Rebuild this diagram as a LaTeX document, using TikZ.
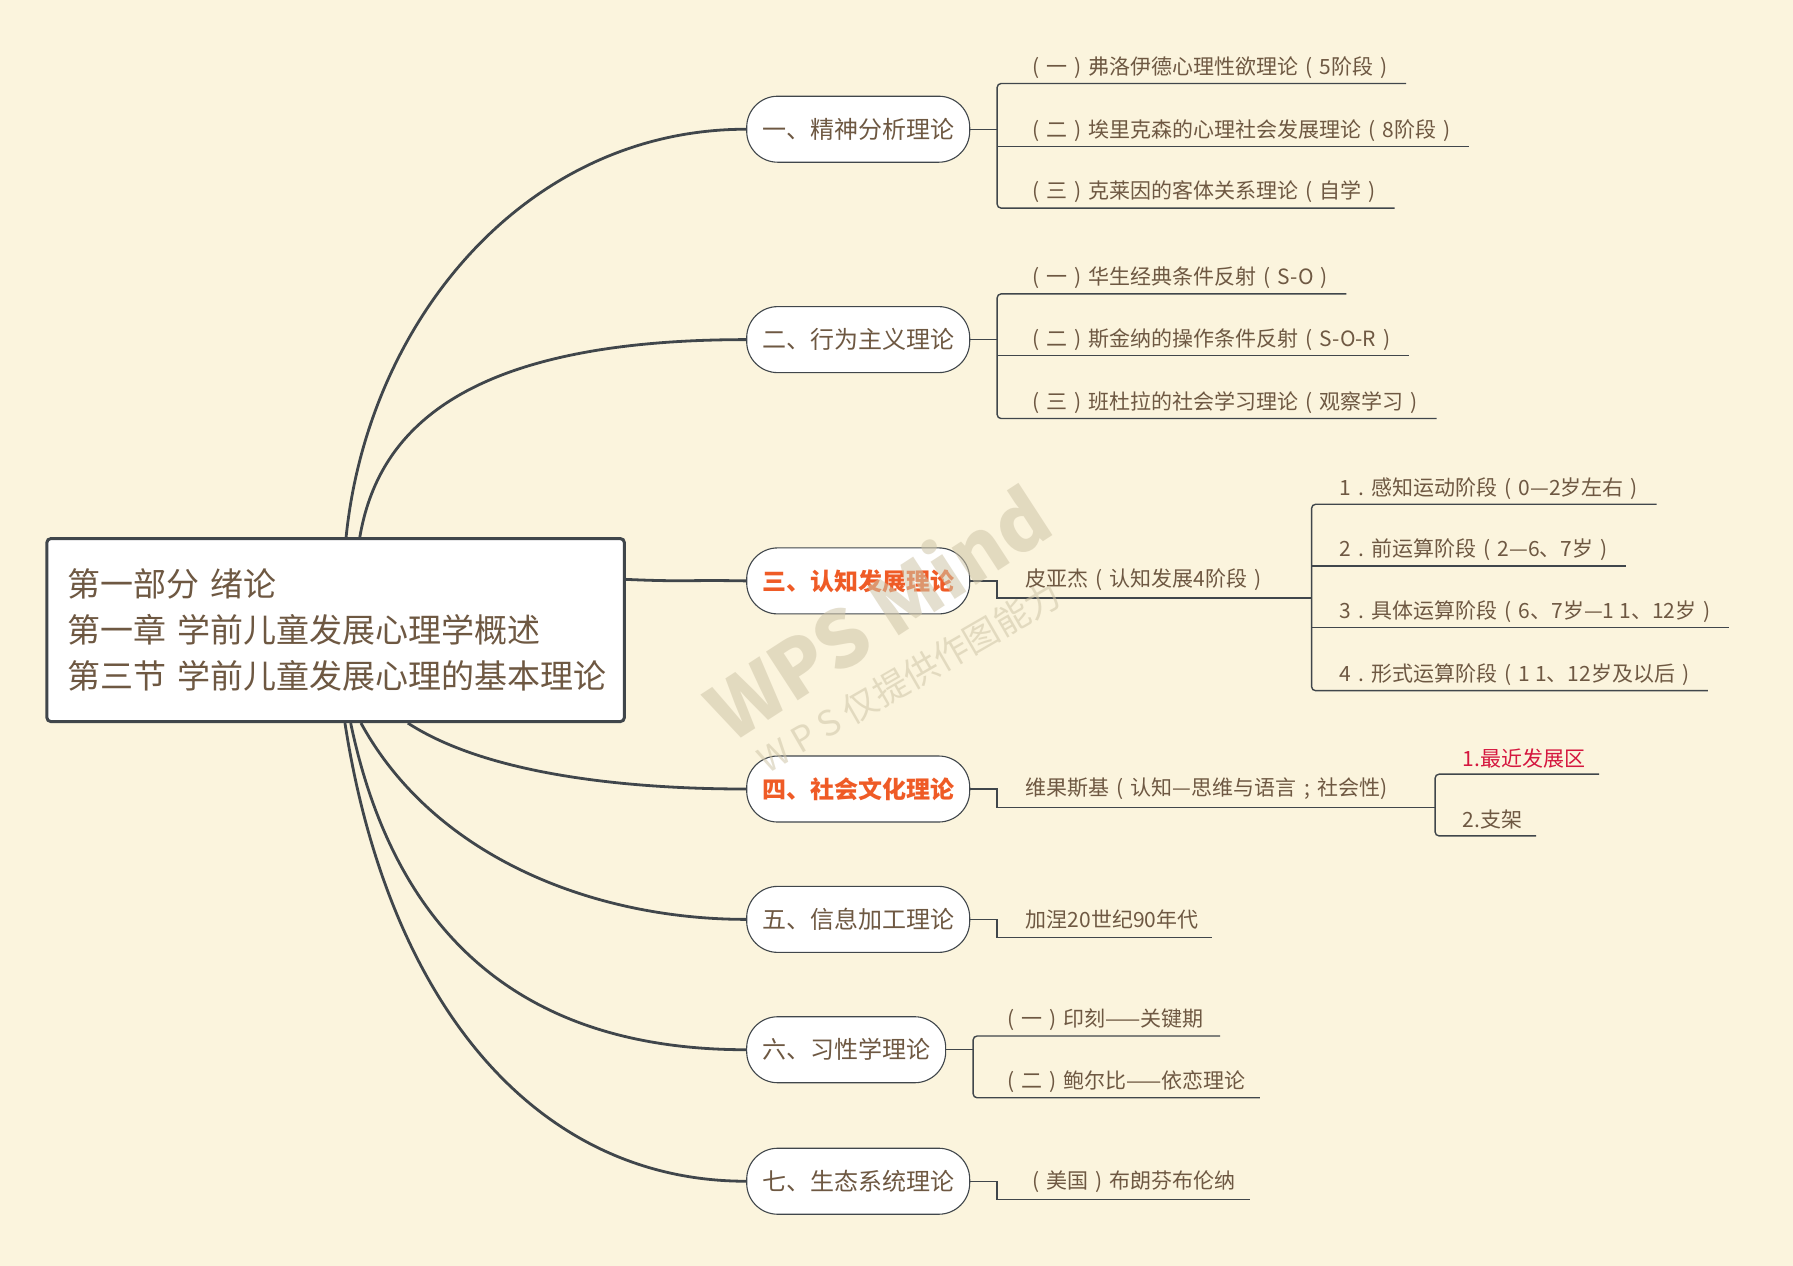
\documentclass[tikz,border=0pt]{standalone}
\usepackage{fontspec}
\newfontfamily\cjk{Noto Sans CJK SC}
\usetikzlibrary{calc}
\definecolor{bg}{HTML}{FBF4DD}
\definecolor{txt}{HTML}{6E5842}
\definecolor{ln}{HTML}{40464B}
\definecolor{hot}{HTML}{EF5B26}
\definecolor{crim}{HTML}{D5173F}
\definecolor{wm}{HTML}{CFC5A8}
\newcommand\zkl{\makebox[1em][c]{(}}
\newcommand\zkr{\makebox[1em][c]{)}}
\newcommand\zkd{\makebox[1em][c]{.}}
\newcommand\zks{\makebox[1em][c]{;}}
\pgfdeclarelayer{bottom}
\pgfdeclarelayer{back}
\pgfdeclarelayer{top}
\pgfsetlayers{bottom,back,main,top}
\begin{document}
\begin{tikzpicture}[x=1.14349pt,y=-1.14349pt,
  pill/.style={draw=ln,line width=1.1pt,fill=white,rounded corners=31pt,
    minimum width=223pt,minimum height=66pt,inner sep=0pt,
    font=\cjk\fontsize{24}{28}\selectfont,text=txt},
  hotpill/.style={pill,font=\cjk\bfseries\fontsize{24}{28}\selectfont,text=hot},
  leaf/.style={anchor=west,inner sep=0pt,font=\cjk\fontsize{21}{24}\selectfont,text=txt},
  trunk/.style={draw=ln,line width=2.8pt},
  twig/.style={draw=ln,line width=1.4pt},
  wmark/.style={text=wm,opacity=0.55,inner sep=0pt}]

\begin{pgfonlayer}{bottom}
\fill[bg] (0,0) rectangle (1568,1107);
\end{pgfonlayer}
\useasboundingbox (0,0) rectangle (1568,1107);

% root
\node[draw=ln,line width=3pt,rounded corners=4pt,fill=white,
  minimum width=577.5pt,minimum height=183pt,text width=536pt,align=left,
  inner sep=0pt,font=\cjk\fontsize{33}{46}\selectfont,text=txt]
  (root) at (293.5,551) {第一部分 绪论\\第一章 学前儿童发展心理学概述\\第三节 学前儿童发展心理的基本理论};

% branches
\node[pill] (b1) at (750.5,113) {一、精神分析理论};
\node[pill] (b2) at (750.5,297) {二、行为主义理论};
\node[hotpill] (b3) at (750.5,508) {三、认知发展理论};
\node[hotpill] (b4) at (750.5,690) {四、社会文化理论};
\node[pill] (b5) at (750.5,804) {五、信息加工理论};
\node[pill,minimum width=199pt] (b6) at (740,918) {六、习性学理论};
\node[pill] (b7) at (750.5,1033) {七、生态系统理论};

\begin{pgfonlayer}{back}
\draw[trunk] ($(root.north west)+(263,0)$) .. controls (322,280) and (460,113) .. (b1.west);
\draw[trunk] ($(root.north west)+(275,0)$) .. controls (330,380) and (400,297) .. (b2.west);
\draw[trunk] ($(root.north east)+(0,37)$) .. controls (600,509) and (600,507) .. (b3.west);
\draw[trunk] ($(root.south west)+(317,0)$) .. controls (430,680) and (560,690) .. (b4.west);
\draw[trunk] ($(root.south west)+(276,0)$) .. controls (380,750) and (520,804) .. (b5.west);
\draw[trunk] ($(root.south west)+(267,0)$) .. controls (350,840) and (480,918) .. (b6.west);
\draw[trunk] ($(root.south west)+(262,0)$) .. controls (340,880) and (470,1033) .. (b7.west);
\end{pgfonlayer}

% branch 1 leaves
\node[leaf] (a1) at (897,59) {\zkl 一\zkr 弗洛伊德心理性欲理论\zkl 5阶段\zkr};
\node[leaf] (a2) at (897,114) {\zkl 二\zkr 埃里克森的心理社会发展理论\zkl 8阶段\zkr};
\node[leaf] (a3) at (897,168) {\zkl 三\zkr 克莱因的客体关系理论\zkl 自学\zkr};
\draw[twig] (b1.east) -- (872,113);
\draw[twig,rounded corners=4pt] (0,73 -| a1.east) ++(10,0) -- (872,73) -- (872,182) -- (0,182 -| a3.east) -- ++(10,0);
\draw[twig] (872,128) -- (0,128 -| a2.east) -- ++(10,0);

% branch 2 leaves
\node[leaf] (c1) at (897,243) {\zkl 一\zkr 华生经典条件反射\zkl S-O\zkr};
\node[leaf] (c2) at (897,297) {\zkl 二\zkr 斯金纳的操作条件反射\zkl S-O-R\zkr};
\node[leaf] (c3) at (897,352) {\zkl 三\zkr 班杜拉的社会学习理论\zkl 观察学习\zkr};
\draw[twig] (b2.east) -- (872,297);
\draw[twig,rounded corners=4pt] (0,257 -| c1.east) ++(10,0) -- (872,257) -- (872,366) -- (0,366 -| c3.east) -- ++(10,0);
\draw[twig] (872,311) -- (0,311 -| c2.east) -- ++(10,0);

% branch 3
\node[leaf] (p) at (897,507) {皮亚杰\zkl 认知发展4阶段\zkr};
\node[leaf] (p1) at (1171,427) {1\zkd 感知运动阶段\zkl 0—2岁左右\zkr};
\node[leaf] (p2) at (1171,481) {2\zkd 前运算阶段\zkl 2—6、7岁\zkr};
\node[leaf] (p3) at (1171,535) {3\zkd 具体运算阶段\zkl 6、7岁—1 1、12岁\zkr};
\node[leaf] (p4) at (1171,590) {4\zkd 形式运算阶段\zkl 1 1、12岁及以后\zkr};
\draw[twig] (b3.east) -- (872,508) -- (872,523) -- (1147,523);
\draw[twig,rounded corners=4pt] (0,441 -| p1.east) ++(10,0) -- (1147,441) -- (1147,604) -- (0,604 -| p4.east) -- ++(10,0);
\draw[twig] (1147,495) -- (0,495 -| p2.east) -- ++(10,0);
\draw[twig] (1147,549) -- (0,549 -| p3.east) -- ++(10,0);

% branch 4
\node[leaf] (v) at (897,690) {维果斯基\zkl 认知—思维与语言\zks 社会性)};
\node[leaf,text=crim] (v1) at (1279,663) {1.最近发展区};
\node[leaf] (v2) at (1279,717) {2.支架};
\draw[twig] (b4.east) -- (872,690) -- (872,706) -- (1255,706);
\draw[twig,rounded corners=4pt] (0,677 -| v1.east) ++(12,0) -- (1255,677) -- (1255,731) -- (0,731 -| v2.east) -- ++(12,0);

% branch 5
\node[leaf] (g) at (897,804) {加涅20世纪90年代};
\draw[twig] (b5.east) -- (872,804) -- (872,820) -- (0,820 -| g.east) -- ++(12,0);

% branch 6
\node[leaf] (e1) at (875,892) {\zkl 一\zkr 印刻——关键期};
\node[leaf] (e2) at (875,946) {\zkl 二\zkr 鲍尔比——依恋理论};
\draw[twig] (b6.east) -- (851,918);
\draw[twig,rounded corners=4pt] (0,906 -| e1.east) ++(14,0) -- (851,906) -- (851,960) -- (0,960 -| e2.east) -- ++(12,0);

% branch 7
\node[leaf] (u) at (897,1033) {\zkl 美国\zkr 布朗芬布伦纳};
\draw[twig] (b7.east) -- (872,1033) -- (872,1049) -- (0,1049 -| u.east) -- ++(12,0);

% watermark
\begin{pgfonlayer}{top}
\node[wmark,rotate=33,font=\cjk\bfseries\fontsize{78}{84}\selectfont] (wm1) at (767,535) {WPS Mind};
\node[wmark,rotate=30,font=\cjk\fontsize{35}{40}\selectfont] (wm2) at (795,592) {W P S 仅提供作图能力};
\end{pgfonlayer}
\end{tikzpicture}
\end{document}
